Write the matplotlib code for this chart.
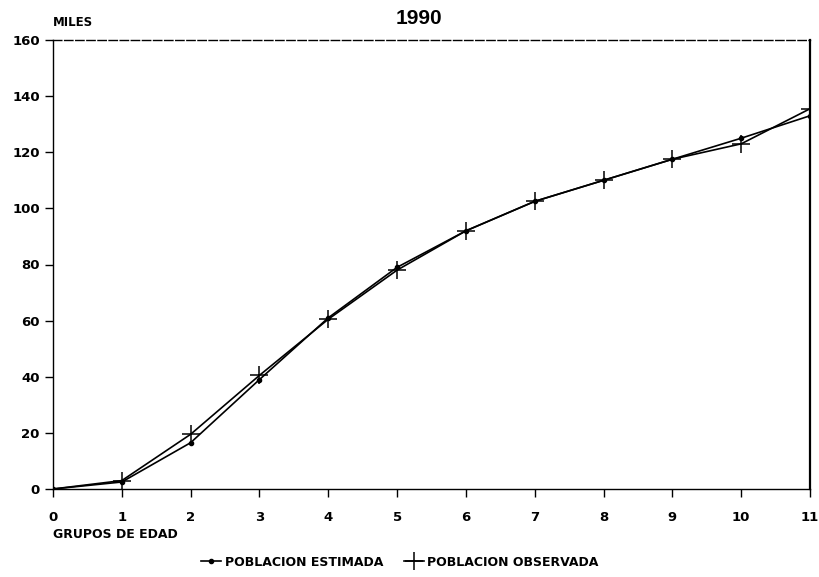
import matplotlib.pyplot as plt
import numpy as np

# Grupos de edad y poblacion (miles), 1990
grupos = [0, 1, 2, 3, 4, 5, 6, 7, 8, 9, 10, 11]
estimada = [0, 2.5, 16.5, 39, 61, 79, 92, 102.5, 110, 117.5, 125, 133]
observada = [0, 3, 19.5, 40.5, 60.5, 78, 92, 102.5, 110, 117.5, 123, 135.5]

yticks = [0, 20, 40, 60, 80, 100, 120, 140, 160]

plt.rcParams['font.family'] = ['DejaVu Sans']

fig = plt.figure(figsize=(8.19, 5.77), dpi=100)
ax = fig.add_axes([53 / 819, 1 - 489 / 577, (810 - 53) / 819, (489 - 40) / 577])

ax.plot(grupos, estimada, color='black', lw=1.2, marker='o', markersize=3,
        label='POBLACION ESTIMADA')
ax.plot(grupos, observada, color='black', lw=1.2, marker='+', markersize=13,
        markeredgewidth=1.1, label='POBLACION OBSERVADA')

ax.set_xlim(0, 11)
ax.set_ylim(0, 160)
ax.set_xticks(grupos)
ax.set_yticks(yticks)
ax.tick_params(axis='both', direction='out', length=6, width=1, labelsize=9.5)
ax.tick_params(axis='x', pad=10)
for lbl in ax.get_xticklabels() + ax.get_yticklabels():
    lbl.set_fontweight('bold')

# marco
ax.spines['top'].set_linestyle((0, (6, 2)))
ax.spines['top'].set_linewidth(1.0)
ax.spines['right'].set_linewidth(1.6)
ax.spines['left'].set_linewidth(1.0)
ax.spines['bottom'].set_linewidth(1.0)

ax.set_xlabel('GRUPOS DE EDAD', loc='left', fontsize=9, fontweight='bold', labelpad=3)
fig.text(53 / 819, 1 - 22 / 577, 'MILES', fontsize=8.5, fontweight='bold', va='center', ha='left')
fig.text(419 / 819, 1 - 18 / 577, '1990', fontsize=15, fontweight='bold', va='center', ha='center',
         family='Liberation Sans')

fig.legend(loc='center', bbox_to_anchor=(400 / 819, 1 - 562 / 577), ncol=2, frameon=False,
           handlelength=1.6, handletextpad=0.3, columnspacing=1.6,
           prop={'size': 9, 'weight': 'bold'})

fig.savefig('out.png', dpi=100)
